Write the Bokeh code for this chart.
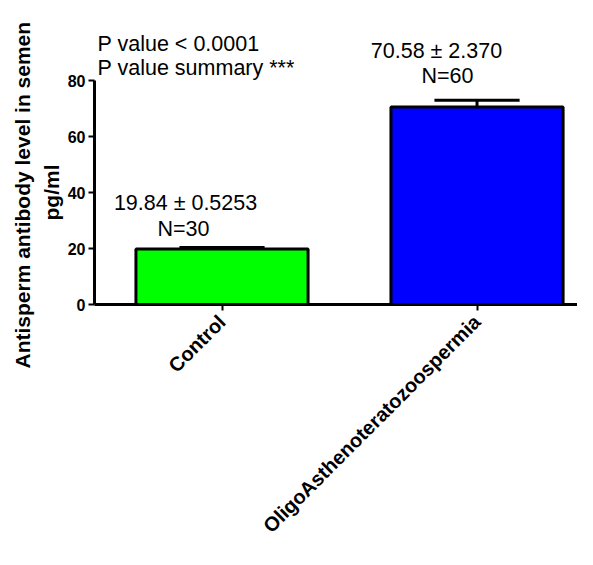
import math
from bokeh.plotting import figure
from bokeh.models import Range1d, FixedTicker, Label, Title
from bokeh.embed import file_html
from bokeh.resources import INLINE

categories = ["Control", "OligoAsthenoteratozoospermia"]
means = [19.84, 70.58]
sems = [0.5253, 2.370]
sem_labels = ["0.5253", "2.370"]
counts = [30, 60]
colors = ["#00FF00", "#0000FF"]
y_ticks = [0, 20, 40, 60, 80]
y_title = ["Antisperm antibody level in semen", "pg/ml"]

xs = [i + 0.5 for i in range(len(categories))]
tops = [m + s for m, s in zip(means, sems)]

p = figure(width=577, height=549, output_backend="svg", toolbar_location=None,
           x_range=Range1d(0, 1.894), y_range=Range1d(0, 108.6),
           min_border_left=94, min_border_bottom=245, min_border_top=0, min_border_right=0)
p.outline_line_color = None
p.grid.visible = False
p.background_fill_color = "white"

p.vbar(x=xs, top=means, width=0.675, bottom=0, fill_color=colors,
       line_color="black", line_width=3)
p.segment(x0=xs, y0=means, x1=xs, y1=tops, line_color="black", line_width=3)
p.segment(x0=[x - 0.167 for x in xs], y0=tops, x1=[x + 0.167 for x in xs], y1=tops,
          line_color="black", line_width=3)

FONT = "Liberation Sans"

xa = p.xaxis[0]
xa.ticker = FixedTicker(ticks=xs)
xa.major_label_overrides = {x: c for x, c in zip(xs, categories)}
xa.major_label_orientation = math.pi / 4
xa.major_label_text_font = FONT
xa.major_label_text_font_style = "bold"
xa.major_label_text_font_size = "20px"
xa.major_label_text_color = "black"
xa.major_label_standoff = 8
xa.axis_line_width = 3
xa.axis_line_color = "black"
xa.major_tick_line_width = 2
xa.major_tick_line_color = "black"
xa.major_tick_in = 0
xa.major_tick_out = 6
xa.minor_tick_line_color = None

ya = p.yaxis[0]
ya.ticker = FixedTicker(ticks=y_ticks)
ya.bounds = (0, 80)
ya.major_label_text_font = FONT
ya.major_label_text_font_style = "bold"
ya.major_label_text_font_size = "16px"
ya.major_label_text_color = "black"
ya.major_label_standoff = 3
ya.axis_line_width = 3
ya.axis_line_color = "black"
ya.major_tick_line_width = 2
ya.major_tick_line_color = "black"
ya.major_tick_in = 0
ya.major_tick_out = 6
ya.minor_tick_line_color = None

# y-axis title: two lines, stacked outward from the axis ("pg/ml" nearest)
for line, off in zip(reversed(y_title), [84, -64]):
    p.add_layout(Title(text=line, align="left", offset=off, standoff=4,
                       text_font=FONT, text_font_style="bold", text_font_size="21px",
                       text_color="black"), "left")

def add_text(x, y, text, align="center"):
    p.add_layout(Label(x=x, y=y, text=text, text_align=align, text_baseline="middle",
                       text_font=FONT, text_font_size="21.5px", text_color="black"))

add_text(0.012, 92.9, "P value < 0.0001", "left")
add_text(0.012, 84.6, "P value summary ***", "left")

ann_pos = [((0.357, 36.4), (0.349, 27.1)), ((1.341, 90.7), (1.384, 81.8))]
for (a, b), m, s, n in zip(ann_pos, means, sem_labels, counts):
    add_text(a[0], a[1], f"{m:.2f} \u00b1 {s}")
    add_text(b[0], b[1], f"N={n}")

open("out.html", "w").write(file_html(p, INLINE))
